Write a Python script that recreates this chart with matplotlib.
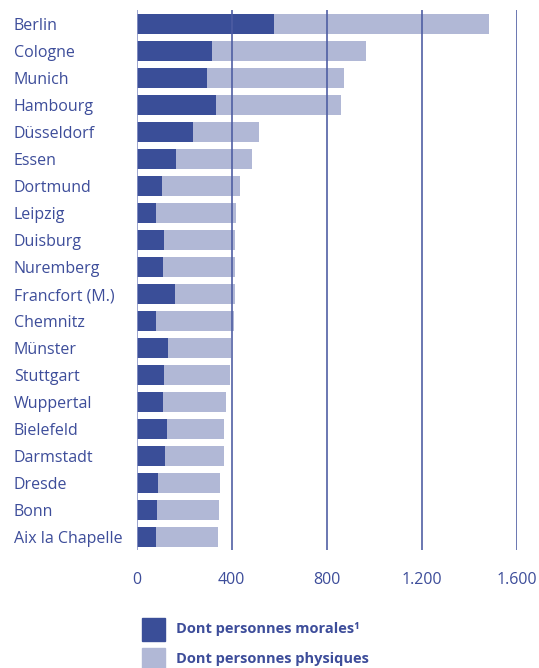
import matplotlib
matplotlib.use("Agg")
import matplotlib.pyplot as plt
from matplotlib.patches import Rectangle

villes = ["Berlin", "Cologne", "Munich", "Hambourg", "Düsseldorf", "Essen",
          "Dortmund", "Leipzig", "Duisburg", "Nuremberg", "Francfort (M.)",
          "Chemnitz", "Münster", "Stuttgart", "Wuppertal", "Bielefeld",
          "Darmstadt", "Dresde", "Bonn", "Aix la Chapelle"]
morales = [578, 318, 297, 334, 237, 165, 106, 82, 115, 111, 161, 82, 132,
           115, 111, 127, 119, 90, 86, 82]
total = [1484, 965, 873, 861, 515, 486, 435, 418, 414, 414, 414, 410, 398,
         393, 376, 368, 368, 351, 347, 343]
physiques = [t - m for t, m in zip(total, morales)]
xticks = [0, 400, 800, 1200, 1600]
xtick_labels = ["0", "400", "800", "1.200", "1.600"]

DARK = "#3a4e98"
LIGHT = "#b1b8d6"
TEXT = "#3d4d9a"
GRID = "#4d5ca2"

plt.rcParams["font.family"] = ["Open Sans", "DejaVu Sans"]

W, H = 539, 668
fig = plt.figure(figsize=(W / 100, H / 100), dpi=100)
ax = fig.add_axes([136.7 / W, (H - 550) / H, 380.3 / W, 540 / H])

y = list(range(len(villes)))
ax.barh(y, morales, height=0.74, color=DARK, zorder=2)
ax.barh(y, physiques, left=morales, height=0.74, color=LIGHT, zorder=2)

ax.set_xlim(0, 1600)
ax.set_ylim(19.48, -0.52)
for v in xticks:
    if v == 0:
        ax.axvline(v, color="#8c96c6", lw=1.2, zorder=3)
    else:
        ax.axvline(v, color=GRID, lw=1.3, alpha=0.9, zorder=3)

for s in ax.spines.values():
    s.set_visible(False)

ax.set_yticks(y)
ax.set_yticklabels(villes, ha="left", color=TEXT, fontsize=11.5)
ax.tick_params(axis="y", length=0, pad=88.5)
ax.set_xticks(xticks)
ax.set_xticklabels(xtick_labels, color=TEXT, fontsize=11.5)
ax.tick_params(axis="x", length=0, pad=16)

# legend
fig.add_artist(Rectangle((142 / W, (H - 641) / H), 23 / W, 23 / H,
                         transform=fig.transFigure, color=DARK))
fig.add_artist(Rectangle((142 / W, (H - 671) / H), 23 / W, 23 / H,
                         transform=fig.transFigure, color=LIGHT))
fig.text(176 / W, (H - 629) / H, "Dont personnes morales¹", color=TEXT,
         fontsize=10.5, fontweight="bold", va="center")
fig.text(176 / W, (H - 659) / H, "Dont personnes physiques", color=TEXT,
         fontsize=10.5, fontweight="bold", va="center")

fig.savefig("out.png", dpi=100)
